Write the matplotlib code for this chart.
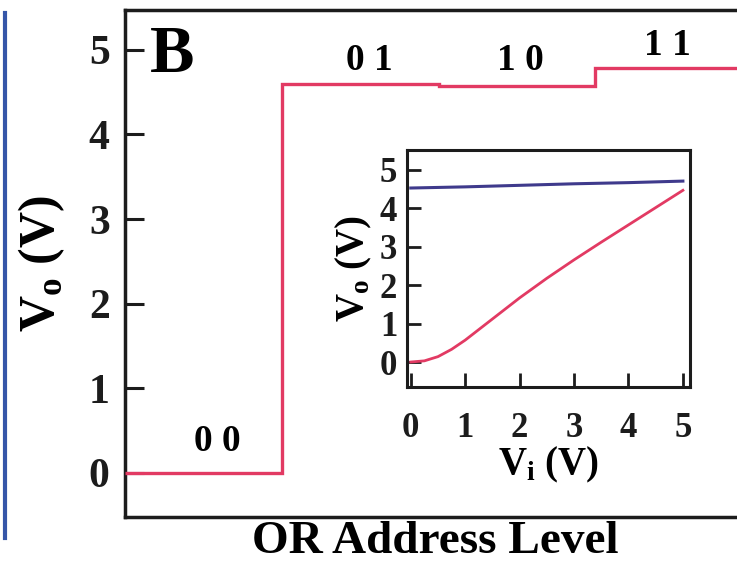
import matplotlib
matplotlib.use("Agg")
import matplotlib.pyplot as plt
from matplotlib.lines import Line2D

plt.rcParams['font.family'] = ['Liberation Serif', 'DejaVu Serif']
plt.rcParams['font.weight'] = 'bold'
plt.rcParams['mathtext.fontset'] = 'custom'
plt.rcParams['mathtext.rm'] = 'Liberation Serif:bold'
plt.rcParams['mathtext.bf'] = 'Liberation Serif:bold'

# ---- data ----
address_edges = [0, 1, 2, 3, 4]
address_labels = ["0 0", "0 1", "1 0", "1 1"]
vo_levels = [0.0, 4.59, 4.57, 4.79]
label_x = [0.59, 1.56, 2.52, 3.46]
label_y = [0.37, 4.87, 4.87, 5.05]

vi = [0.0, 0.25, 0.5, 0.75, 1.0, 1.5, 2.0, 2.5, 3.0, 3.5, 4.0, 4.5, 5.0]
vo_red = [0.0, 0.03, 0.14, 0.33, 0.57, 1.12, 1.67, 2.18, 2.66, 3.12, 3.57, 4.02, 4.47]
vi_blue = [0.0, 1.0, 2.0, 3.0, 4.0, 5.0]
vo_blue = [4.53, 4.56, 4.60, 4.64, 4.67, 4.71]

main_yticks = [0, 1, 2, 3, 4, 5]
inset_ticks = [0, 1, 2, 3, 4, 5]

RED = '#e23a63'
BLUE = '#3f3a8c'
SPINE = '#1c1c1c'

fig = plt.figure(figsize=(7.37, 5.66), dpi=100)

# blue edge of neighbouring panel
fig.add_artist(Line2D([0.0068, 0.0068], [0.977, 0.0495], transform=fig.transFigure,
                      color='#3556a8', lw=3.0))

ax = fig.add_axes([0.1696, 0.0866, 0.8426, 0.8958])
ax.stairs(vo_levels, address_edges, baseline=None, color=RED, lw=2.4, zorder=3)
ax.set_xlim(0, 3.96)
ax.set_ylim(-0.52, 5.47)
ax.set_yticks(main_yticks)
ax.set_xticks([])
ax.tick_params(axis='y', direction='in', length=14, width=2.2, pad=11,
               labelsize=30, colors=SPINE)
for s in ax.spines.values():
    s.set_linewidth(2.5)
    s.set_color(SPINE)
ax.spines['right'].set_visible(False)
ax.set_xlabel("OR Address Level", fontsize=34, fontweight='bold', labelpad=3)
ax.set_ylabel(r"V$_\mathregular{o}$ (V)", fontsize=36, fontweight='bold', labelpad=16)
for lab, x, y in zip(address_labels, label_x, label_y):
    ax.text(x, y, lab, fontsize=27, fontweight='bold', ha='center', va='center')
ax.text(0.04, 0.91, "B", transform=ax.transAxes, fontsize=48, fontweight='bold',
        ha='left', va='center')

# inset
ins = fig.add_axes([0.5522, 0.3163, 0.384, 0.4187])
ins.plot(vi_blue, vo_blue, color=BLUE, lw=2.2)
ins.plot(vi, vo_red, color=RED, lw=2.0)
ins.set_xlim(-0.07, 5.13)
ins.set_ylim(-0.65, 5.52)
ins.set_xticks(inset_ticks)
ins.set_yticks(inset_ticks)
ins.tick_params(direction='in', length=10, width=2.0, labelsize=25, colors=SPINE)
ins.tick_params(axis='x', pad=18)
ins.tick_params(axis='y', pad=7)
for s in ins.spines.values():
    s.set_linewidth(2.2)
    s.set_color(SPINE)
ins.set_xlabel(r"V$_\mathregular{i}$ (V)", fontsize=28, fontweight='bold', labelpad=0)
ins.set_ylabel(r"V$_\mathregular{o}$ (V)", fontsize=28, fontweight='bold', labelpad=4)

fig.savefig("out.png", dpi=100)
